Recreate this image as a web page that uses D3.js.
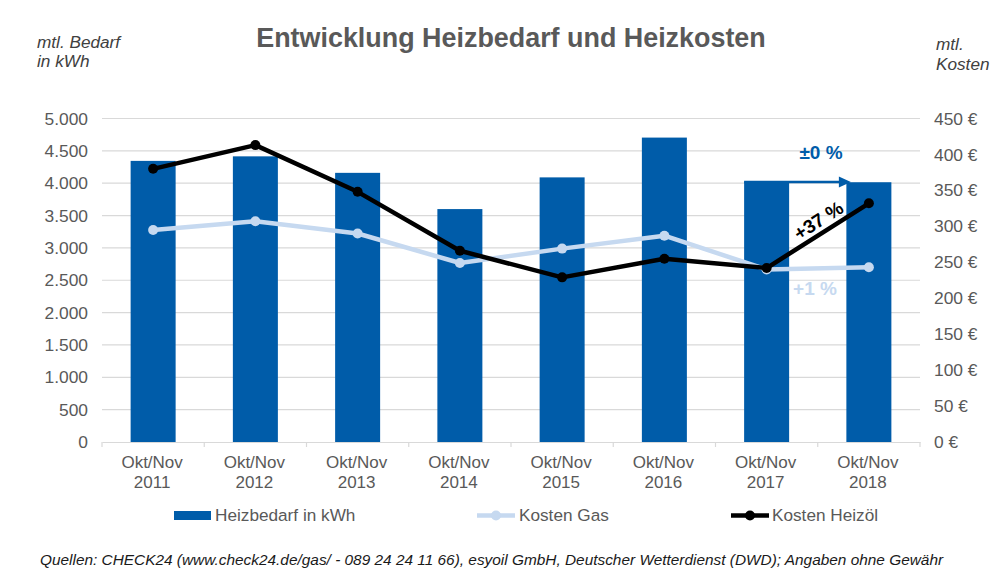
<!DOCTYPE html>
<html>
<head>
<meta charset="utf-8">
<script src="https://cdn.jsdelivr.net/npm/d3@7"></script>
<style>
html, body { margin: 0; padding: 0; background: #fff; }
svg { display: block; font-family: "Liberation Sans", Arial, sans-serif; }
</style>
</head>
<body>
<div id="chart"></div>
<script>
var categories = ["2011", "2012", "2013", "2014", "2015", "2016", "2017", "2018"];
var heizbedarf = [4345, 4415, 4160, 3600, 4090, 4705, 4025, 4015];
var kostenGas = [295, 307, 290, 249, 269, 287, 240, 243];
var kostenHeizoel = [380, 413, 348, 266, 229, 255, 242, 332];
var leftTicks = [0, 500, 1000, 1500, 2000, 2500, 3000, 3500, 4000, 4500, 5000];
var rightTicks = [0, 50, 100, 150, 200, 250, 300, 350, 400, 450];

var width = 1007, height = 578;
var blue = "#005ca9", lightBlue = "#c6d9f0", grey = "#595959", gridGrey = "#d9d9d9";

var svg = d3.select("#chart").append("svg")
    .attr("width", width)
    .attr("height", height);

var x = d3.scaleBand().domain(categories).range([102, 920]);
var yLeft = d3.scaleLinear().domain([0, 5000]).range([442, 118.5]);
var yRight = d3.scaleLinear().domain([0, 450]).range([442, 118.5]);
var cx = function(d, i) { return x(categories[i]) + x.bandwidth() / 2; };

// gridlines
svg.append("g").selectAll("line")
    .data(leftTicks.slice(1))
    .join("line")
    .attr("x1", 102).attr("x2", 920)
    .attr("y1", function(d) { return yLeft(d); })
    .attr("y2", function(d) { return yLeft(d); })
    .attr("stroke", gridGrey)
    .attr("stroke-width", 1.2);

// bars
svg.append("g").selectAll("rect")
    .data(heizbedarf)
    .join("rect")
    .attr("x", function(d, i) { return cx(d, i) - 22.5; })
    .attr("width", 45)
    .attr("y", function(d) { return yLeft(d); })
    .attr("height", function(d) { return yLeft(0) - yLeft(d); })
    .attr("fill", blue);

// axes
var leftAxis = d3.axisLeft(yLeft)
    .tickValues(leftTicks)
    .tickSize(0)
    .tickPadding(14)
    .tickFormat(function(d) { return d3.format(",")(d).replace(",", "."); });
var gLeft = svg.append("g").attr("transform", "translate(102,0)").call(leftAxis);

var rightAxis = d3.axisRight(yRight)
    .tickValues(rightTicks)
    .tickSize(0)
    .tickPadding(14)
    .tickFormat(function(d) { return d + " €"; });
var gRight = svg.append("g").attr("transform", "translate(920,0)").call(rightAxis);

var bottomAxis = d3.axisBottom(x).tickSize(0).tickFormat("");
var gBottom = svg.append("g").attr("transform", "translate(0,442)").call(bottomAxis);

gLeft.select(".domain").remove();
gRight.select(".domain").remove();
gBottom.select(".domain").attr("stroke", gridGrey).attr("stroke-width", 1.2);
gBottom.selectAll(".tick").remove();
gLeft.selectAll("text").attr("font-size", 17.4).attr("fill", grey);
gRight.selectAll("text").attr("font-size", 17.4).attr("fill", grey);

// small tick marks between the categories
svg.append("g").selectAll("line")
    .data(categories.concat(["end"]))
    .join("line")
    .attr("x1", function(d, i) { return 102 + i * x.bandwidth(); })
    .attr("x2", function(d, i) { return 102 + i * x.bandwidth(); })
    .attr("y1", 442).attr("y2", 447)
    .attr("stroke", gridGrey)
    .attr("stroke-width", 1.2);

// category labels
var catLabels = svg.append("g").selectAll("text")
    .data(categories)
    .join("text")
    .attr("text-anchor", "middle")
    .attr("fill", grey)
    .attr("font-size", 17);
catLabels.append("tspan")
    .attr("x", function(d, i) { return cx(d, i) - 1; }).attr("y", 468)
    .text("Okt/Nov");
catLabels.append("tspan")
    .attr("x", function(d, i) { return cx(d, i) - 1; }).attr("y", 488)
    .text(function(d) { return d; });

// lines
var line = d3.line()
    .x(cx)
    .y(function(d) { return yRight(d); });

function drawSeries(values, color, sw, r) {
    var g = svg.append("g");
    g.append("path")
        .datum(values)
        .attr("d", line)
        .attr("fill", "none")
        .attr("stroke", color)
        .attr("stroke-width", sw)
        .attr("stroke-linejoin", "round");
    g.selectAll("circle")
        .data(values)
        .join("circle")
        .attr("cx", cx)
        .attr("cy", function(d) { return yRight(d); })
        .attr("r", r)
        .attr("fill", color);
}
drawSeries(kostenGas, lightBlue, 4.5, 5);

// arrow over the last two bars
var lastBarLeft = cx(null, 6) - 22.5;
var ah = yLeft(heizbedarf[6]) + 0.5, ax = cx(null, 7) - 22;
svg.append("line")
    .attr("x1", lastBarLeft).attr("x2", ax - 6)
    .attr("y1", ah).attr("y2", ah)
    .attr("stroke", blue).attr("stroke-width", 2.5);
svg.append("path")
    .attr("d", d3.line()([[ax - 8, ah - 5.5], [ax + 4, ah], [ax - 8, ah + 5.5]]))
    .attr("fill", blue);

drawSeries(kostenHeizoel, "#000", 4.5, 5);

// annotations
svg.append("text")
    .attr("x", 821).attr("y", 159)
    .attr("text-anchor", "middle")
    .attr("font-size", 19).attr("font-weight", "bold")
    .attr("fill", blue)
    .text("±0 %");
svg.append("text")
    .attr("x", 815).attr("y", 295)
    .attr("text-anchor", "middle")
    .attr("font-size", 19).attr("font-weight", "bold")
    .attr("fill", lightBlue)
    .text("+1 %");
svg.append("text")
    .attr("transform", "translate(822,226) rotate(-33)")
    .attr("text-anchor", "middle")
    .attr("font-size", 19).attr("font-weight", "bold")
    .attr("fill", "#000")
    .text("+37 %");

// title
svg.append("text")
    .attr("x", 511).attr("y", 47)
    .attr("text-anchor", "middle")
    .attr("font-size", 26.9).attr("font-weight", "bold")
    .attr("fill", grey)
    .text("Entwicklung Heizbedarf und Heizkosten");

// axis captions
function caption(px, py, txt) {
    svg.append("text")
        .attr("x", px).attr("y", py)
        .attr("font-size", 17.2).attr("font-style", "italic")
        .attr("fill", "#404040")
        .text(txt);
}
caption(37, 48, "mtl. Bedarf");
caption(37, 67, "in kWh");
caption(936, 50, "mtl.");
caption(936, 70, "Kosten");

// legend
svg.append("rect")
    .attr("x", 174).attr("y", 511)
    .attr("width", 37).attr("height", 9)
    .attr("fill", blue);
function legendText(px, txt) {
    svg.append("text")
        .attr("x", px).attr("y", 521)
        .attr("font-size", 17.2)
        .attr("fill", grey)
        .text(txt);
}
legendText(215, "Heizbedarf in kWh");
function legendLine(px, color, sw, r) {
    svg.append("line")
        .attr("x1", px).attr("x2", px + 38)
        .attr("y1", 515.5).attr("y2", 515.5)
        .attr("stroke", color).attr("stroke-width", sw);
    svg.append("circle")
        .attr("cx", px + 19).attr("cy", 515.5)
        .attr("r", r).attr("fill", color);
}
legendLine(477, lightBlue, 4.5, 5);
legendText(519, "Kosten Gas");
legendLine(731, "#000", 4.5, 5);
legendText(772, "Kosten Heizöl");

// source line
svg.append("text")
    .attr("x", 40).attr("y", 565)
    .attr("font-size", 15.4).attr("font-style", "italic")
    .attr("fill", "#1a1a1a")
    .text("Quellen: CHECK24 (www.check24.de/gas/ - 089 24 24 11 66), esyoil GmbH, Deutscher Wetterdienst (DWD); Angaben ohne Gewähr");
</script>
</body>
</html>
